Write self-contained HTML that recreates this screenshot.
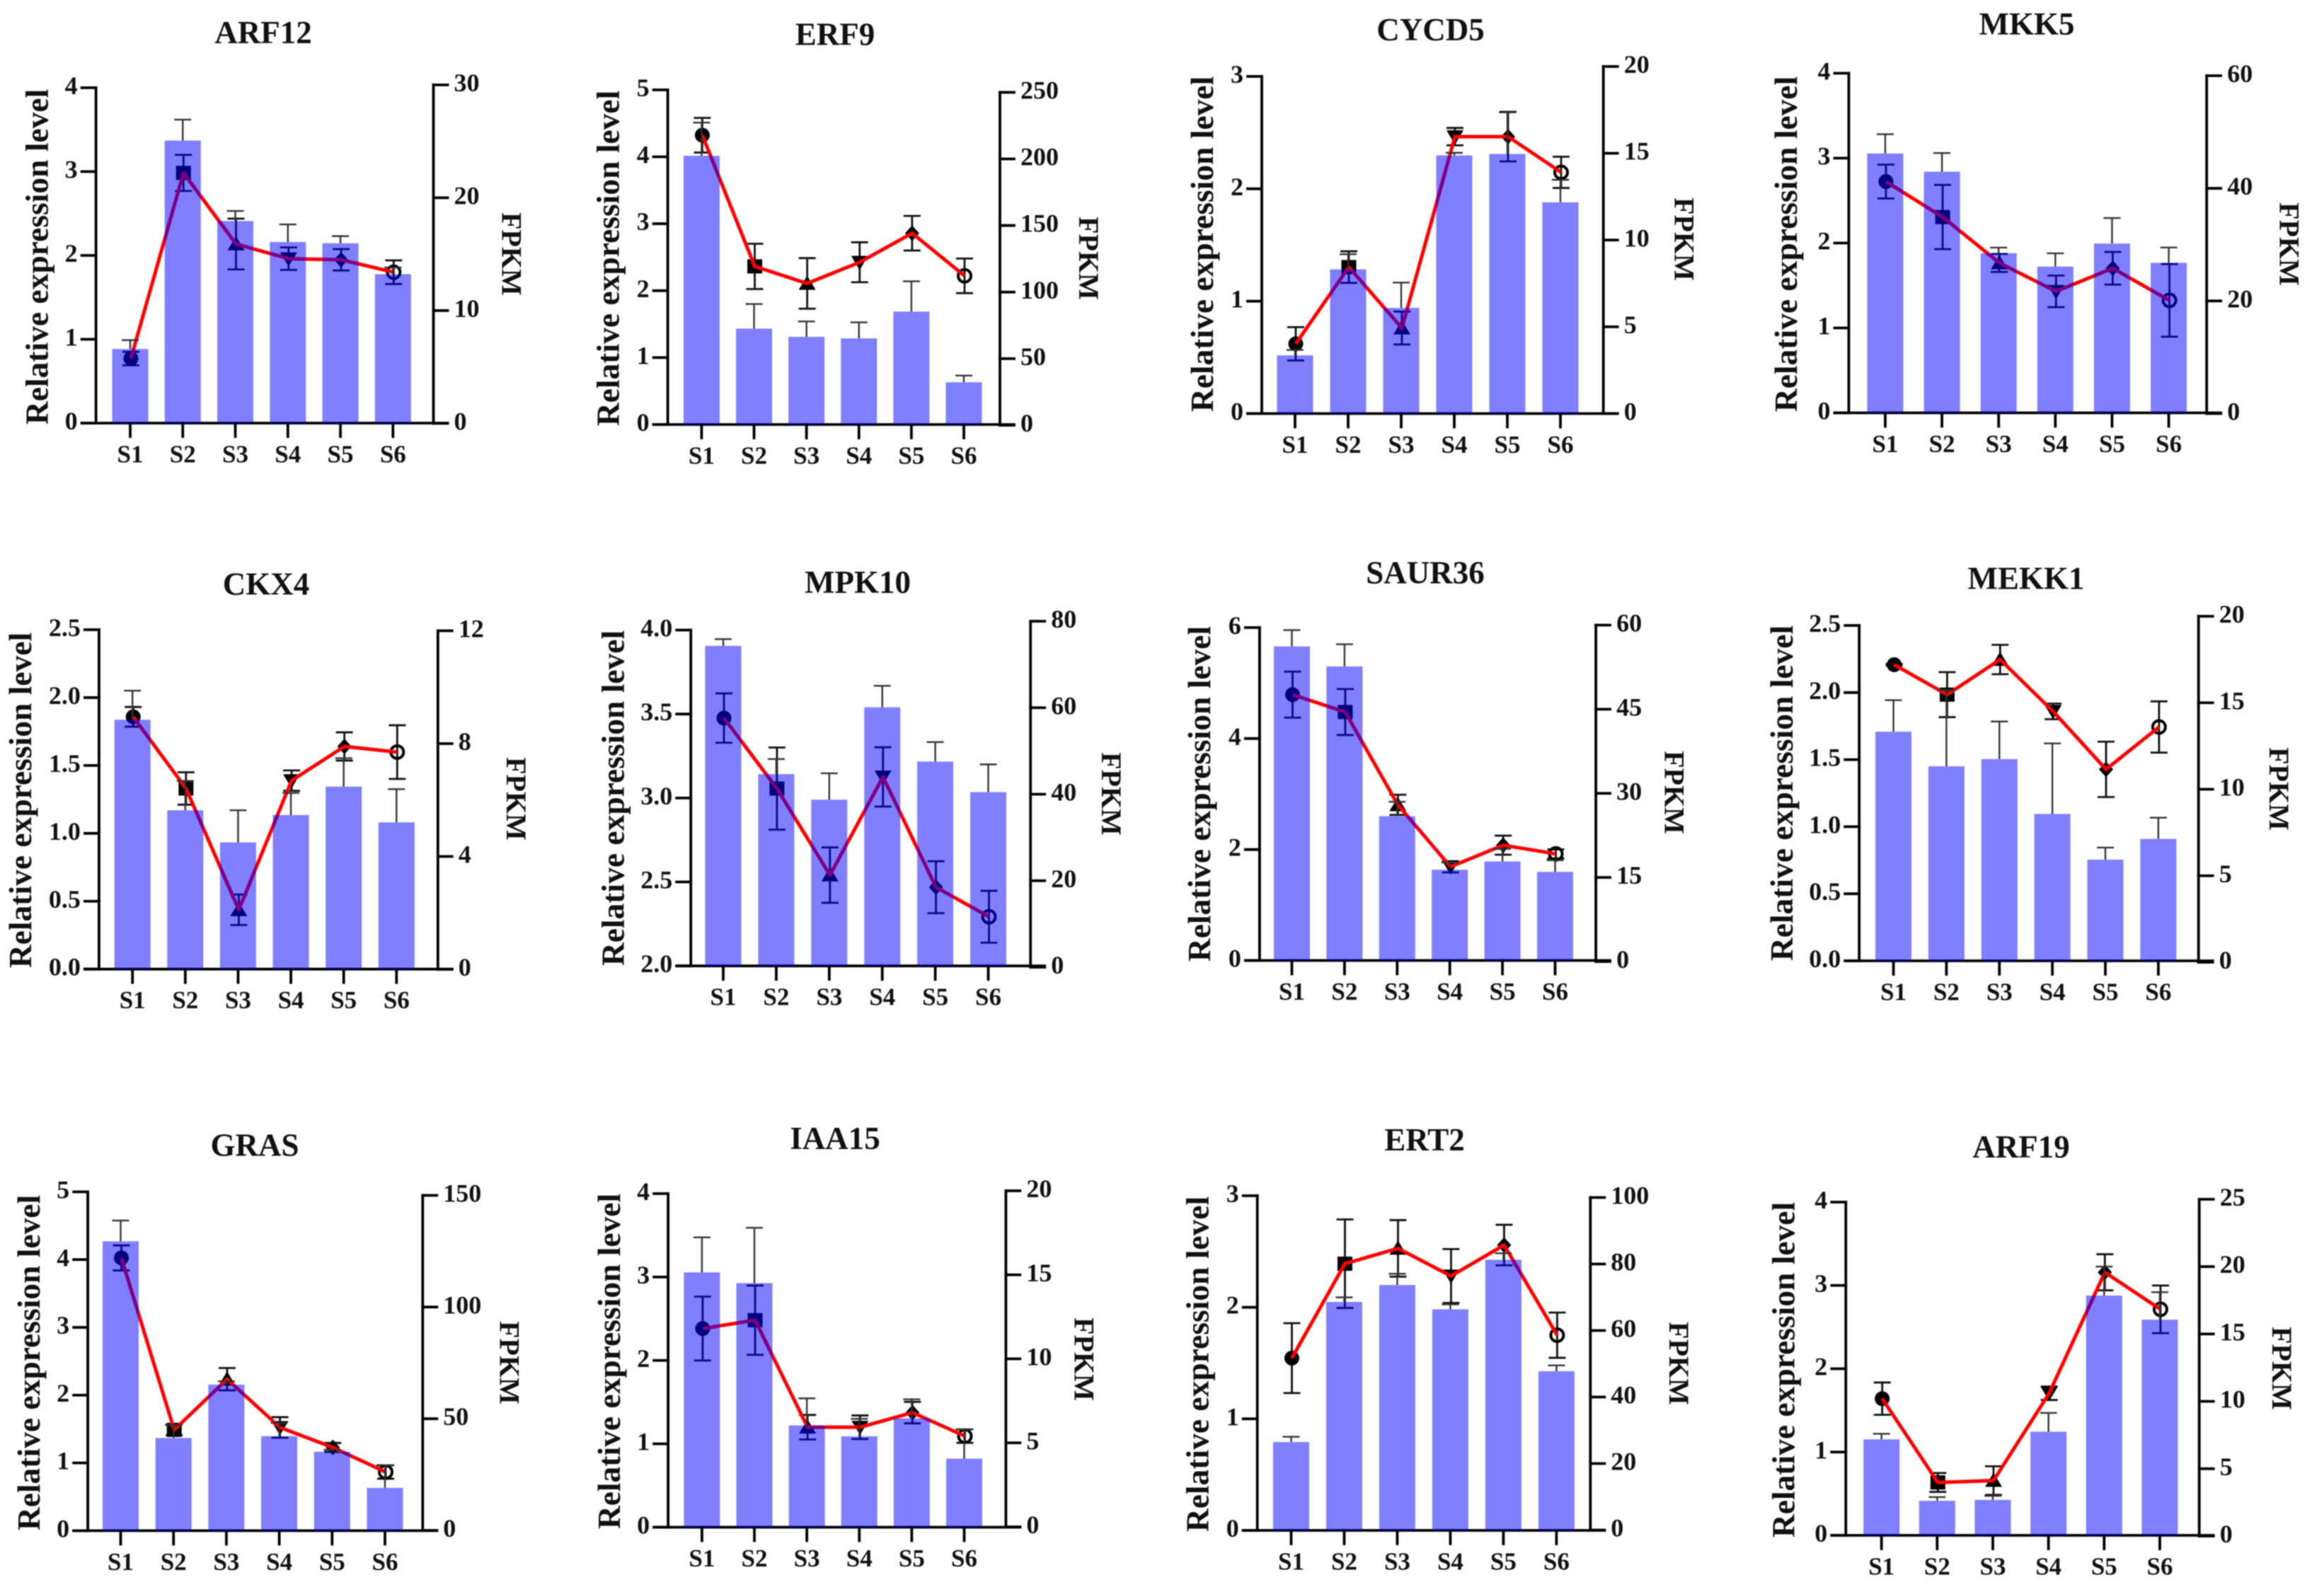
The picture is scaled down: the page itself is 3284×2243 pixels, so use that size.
<!DOCTYPE html>
<html lang="en">
<head>
<meta charset="utf-8">
<title>Relative expression level and FPKM of twelve genes across S1 to S6</title>
<style>
  html, body { margin: 0; padding: 0; background: #fff; }
  #figure { display: block; width: 3284px; height: 2243px; filter: blur(0.9px); }
  text { font-family: "Liberation Serif", "Times New Roman", serif; font-weight: bold; fill: #111; }
</style>
</head>
<body>
<svg id="figure" xmlns="http://www.w3.org/2000/svg" width="3284" height="2243" viewBox="0 0 3284 2243"></svg>
<script>
const categories = ['S1', 'S2', 'S3', 'S4', 'S5', 'S6'];

const arf12LeftTicks = ['0', '1', '2', '3', '4'];
const arf12RightTicks = ['0', '10', '20', '30'];
const arf12Bars = [0.884, 3.37, 2.41, 2.16, 2.145, 1.776];
const arf12BarErr = [0.106, 0.25, 0.12, 0.21, 0.085, 0.08];
const arf12Fpkm = [5.75, 22.2, 15.9, 14.6, 14.5, 13.4];
const arf12FpkmErr = [0.6, 1.6, 2.25, 1.0, 0.95, 1.05];

const erf9LeftTicks = ['0', '1', '2', '3', '4', '5'];
const erf9RightTicks = ['0', '50', '100', '150', '200', '250'];
const erf9Bars = [4.015, 1.433, 1.31, 1.287, 1.687, 0.631];
const erf9BarErr = [0.495, 0.367, 0.23, 0.24, 0.453, 0.1];
const erf9Fpkm = [217.8, 119.3, 106.5, 122.4, 144.2, 112.2];
const erf9FpkmErr = [13, 17, 19, 15, 13, 13];

const cycd5LeftTicks = ['0', '1', '2', '3'];
const cycd5RightTicks = ['0', '5', '10', '15', '20'];
const cycd5Bars = [0.518, 1.283, 0.94, 2.297, 2.31, 1.88];
const cycd5BarErr = [0.048, 0.135, 0.225, 0.023, 0.37, 0.2];
const cycd5Fpkm = [4.02, 8.44, 4.93, 15.96, 15.96, 13.9];
const cycd5FpkmErr = [0.96, 0.91, 0.95, 0.5, 1.43, 0.9];

const mkk5LeftTicks = ['0', '1', '2', '3', '4'];
const mkk5RightTicks = ['0', '20', '40', '60'];
const mkk5Bars = [3.055, 2.84, 1.88, 1.723, 1.994, 1.767];
const mkk5BarErr = [0.227, 0.22, 0.066, 0.156, 0.3, 0.18];
const mkk5Fpkm = [41.2, 34.9, 26.75, 21.7, 25.8, 20.1];
const mkk5FpkmErr = [3.0, 5.7, 1.6, 2.8, 2.9, 6.45];

const ckx4LeftTicks = ['0.0', '0.5', '1.0', '1.5', '2.0', '2.5'];
const ckx4RightTicks = ['0', '4', '8', '12'];
const ckx4Bars = [1.837, 1.17, 0.933, 1.135, 1.344, 1.081];
const ckx4BarErr = [0.214, 0.216, 0.237, 0.163, 0.21, 0.245];
const ckx4Fpkm = [8.95, 6.41, 2.11, 6.69, 7.9, 7.7];
const ckx4FpkmErr = [0.35, 0.575, 0.54, 0.36, 0.5, 0.95];

const mpk10LeftTicks = ['2.0', '2.5', '3.0', '3.5', '4.0'];
const mpk10RightTicks = ['0', '20', '40', '60', '80'];
const mpk10Bars = [3.906, 3.142, 2.99, 3.54, 3.217, 3.035];
const mpk10BarErr = [0.04, 0.09, 0.157, 0.128, 0.116, 0.165];
const mpk10Fpkm = [57.6, 41.3, 21.3, 44, 18.5, 11.66];
const mpk10FpkmErr = [5.7, 9.5, 6.4, 6.85, 6, 6];

const saur36LeftTicks = ['0', '2', '4', '6'];
const saur36RightTicks = ['0', '15', '30', '45', '60'];
const saur36Bars = [5.66, 5.3, 2.6, 1.636, 1.784, 1.597];
const saur36BarErr = [0.295, 0.4, 0.26, 0.13, 0.227, 0.21];
const saur36Fpkm = [47.6, 44.5, 27.95, 16.9, 20.75, 19.2];
const saur36FpkmErr = [4.1, 4.1, 1.8, 1.0, 1.7, 0.8];

const mekk1LeftTicks = ['0.0', '0.5', '1.0', '1.5', '2.0', '2.5'];
const mekk1RightTicks = ['0', '5', '10', '15', '20'];
const mekk1Bars = [1.708, 1.45, 1.504, 1.095, 0.754, 0.909];
const mekk1BarErr = [0.235, 0.568, 0.28, 0.526, 0.09, 0.158];
const mekk1Fpkm = [17.2, 15.47, 17.5, 14.5, 11.15, 13.6];
const mekk1FpkmErr = [0.05, 1.3, 0.85, 0.45, 1.6, 1.48];

const grasLeftTicks = ['0', '1', '2', '3', '4', '5'];
const grasRightTicks = ['0', '50', '100', '150'];
const grasBars = [4.27, 1.368, 2.155, 1.395, 1.164, 0.632];
const grasBarErr = [0.307, 0.19, 0.05, 0.195, 0.03, 0.336];
const grasFpkm = [122, 45, 67.7, 46.1, 37.15, 26.15];
const grasFpkmErr = [5.6, 2.4, 5, 4.6, 2, 3];

const iaa15LeftTicks = ['0', '1', '2', '3', '4'];
const iaa15RightTicks = ['0', '5', '10', '15', '20'];
const iaa15Bars = [3.056, 2.927, 1.22, 1.09, 1.305, 0.822];
const iaa15BarErr = [0.42, 0.663, 0.325, 0.21, 0.229, 0.35];
const iaa15Fpkm = [11.8, 12.3, 5.93, 5.93, 6.8, 5.4];
const iaa15FpkmErr = [1.9, 2.06, 0.73, 0.7, 0.64, 0.4];

const ert2LeftTicks = ['0', '1', '2', '3'];
const ert2RightTicks = ['0', '20', '40', '60', '80', '100'];
const ert2Bars = [0.792, 2.048, 2.2, 1.982, 2.426, 1.427];
const ert2BarErr = [0.047, 0.041, 0.1, 0.044, 0.058, 0.052];
const ert2Fpkm = [51.7, 80.1, 84.7, 76.4, 85.7, 58.6];
const ert2FpkmErr = [10.5, 13.3, 8.5, 8.1, 6.1, 6.8];

const arf19LeftTicks = ['0', '1', '2', '3', '4'];
const arf19RightTicks = ['0', '5', '10', '15', '20', '25'];
const arf19Bars = [1.152, 0.415, 0.426, 1.244, 2.878, 2.589];
const arf19BarErr = [0.067, 0.044, 0.048, 0.226, 0.348, 0.33];
const arf19Fpkm = [10.2, 3.98, 4.12, 10.6, 19.58, 16.83];
const arf19FpkmErr = [1.2, 0.7, 1.06, 0.5, 1.34, 1.77];

const leftAxisTitle = 'Relative expression level';
const rightAxisTitle = 'FPKM';

const panels = [
  { title: 'ARF12', key: 'arf12', left: arf12LeftTicks, right: arf12RightTicks, bars: arf12Bars, barErr: arf12BarErr, fpkm: arf12Fpkm, fpkmErr: arf12FpkmErr,
    frame: { L: 135.6, base: 598, ltop: 124, R: 612.5, rtop: 120, rbase: 598.4, s1: 184, s6: 555.3, tx: 372, ty: 47, yx: 52.6, yy: 363, fx: 723.5, fy: 359 } },
  { title: 'ERF9', key: 'erf9', left: erf9LeftTicks, right: erf9RightTicks, bars: erf9Bars, barErr: erf9BarErr, fpkm: erf9Fpkm, fpkmErr: erf9FpkmErr,
    frame: { L: 943.6, base: 600, ltop: 127, R: 1413, rtop: 130.5, rbase: 601, s1: 991.4, s6: 1362, tx: 1180, ty: 49.5, yx: 859.4, yy: 365, fx: 1539, fy: 365 } },
  { title: 'CYCD5', key: 'cycd5', left: cycd5LeftTicks, right: cycd5RightTicks, bars: cycd5Bars, barErr: cycd5BarErr, fpkm: cycd5Fpkm, fpkmErr: cycd5FpkmErr,
    frame: { L: 1783, base: 584.5, ltop: 108, R: 2265.7, rtop: 94, rbase: 584.5, s1: 1830, s6: 2205, tx: 2021.5, ty: 42.8, yx: 1698.9, yy: 345, fx: 2380.3, fy: 338 } },
  { title: 'MKK5', key: 'mkk5', left: mkk5LeftTicks, right: mkk5RightTicks, bars: mkk5Bars, barErr: mkk5BarErr, fpkm: mkk5Fpkm, fpkmErr: mkk5FpkmErr,
    frame: { L: 2612.5, base: 583.5, ltop: 103.5, R: 3118.2, rtop: 107, rbase: 584.5, s1: 2664, s6: 3064.6, tx: 2864, ty: 35, yx: 2524, yy: 345, fx: 3235.5, fy: 345 } },
  { title: 'CKX4', key: 'ckx4', left: ckx4LeftTicks, right: ckx4RightTicks, bars: ckx4Bars, barErr: ckx4BarErr, fpkm: ckx4Fpkm, fpkmErr: ckx4FpkmErr,
    frame: { L: 139.9, base: 1369.7, ltop: 890, R: 618.8, rtop: 891.5, rbase: 1370, s1: 187.2, s6: 560.3, tx: 376, ty: 826.4, yx: 28.9, yy: 1131, fx: 729.8, fy: 1129 } },
  { title: 'MPK10', key: 'mpk10', left: mpk10LeftTicks, right: mpk10RightTicks, bars: mpk10Bars, barErr: mpk10BarErr, fpkm: mpk10Fpkm, fpkmErr: mpk10FpkmErr,
    frame: { L: 976.2, base: 1365.2, ltop: 890.5, R: 1456.2, rtop: 878, rbase: 1367, s1: 1022, s6: 1396.5, tx: 1212, ty: 824.1, yx: 866.3, yy: 1128, fx: 1570.8, fy: 1122 } },
  { title: 'SAUR36', key: 'saur36', left: saur36LeftTicks, right: saur36RightTicks, bars: saur36Bars, barErr: saur36BarErr, fpkm: saur36Fpkm, fpkmErr: saur36FpkmErr,
    frame: { L: 1779.9, base: 1357.5, ltop: 887, R: 2255.1, rtop: 883.5, rbase: 1359, s1: 1825.5, s6: 2197.5, tx: 2014, ty: 810.6, yx: 1695.2, yy: 1122, fx: 2366.6, fy: 1120 } },
  { title: 'MEKK1', key: 'mekk1', left: mekk1LeftTicks, right: mekk1RightTicks, bars: mekk1Bars, barErr: mekk1BarErr, fpkm: mekk1Fpkm, fpkmErr: mekk1FpkmErr,
    frame: { L: 2627.2, base: 1358, ltop: 884, R: 3106.7, rtop: 871, rbase: 1360, s1: 2675.6, s6: 3049.9, tx: 2863, ty: 818.3, yx: 2517.8, yy: 1121, fx: 3220.8, fy: 1115 } },
  { title: 'GRAS', key: 'gras', left: grasLeftTicks, right: grasRightTicks, bars: grasBars, barErr: grasBarErr, fpkm: grasFpkm, fpkmErr: grasFpkmErr,
    frame: { L: 124.1, base: 2163.4, ltop: 1684.5, R: 597.3, rtop: 1689.5, rbase: 2163, s1: 170.5, s6: 544, tx: 360, ty: 1619.3, yx: 41, yy: 1926, fx: 720.3, fy: 1926 } },
  { title: 'IAA15', key: 'iaa15', left: iaa15LeftTicks, right: iaa15RightTicks, bars: iaa15Bars, barErr: iaa15BarErr, fpkm: iaa15Fpkm, fpkmErr: iaa15FpkmErr,
    frame: { L: 944.1, base: 2158.5, ltop: 1687, R: 1421.4, rtop: 1683, rbase: 2158, s1: 991.9, s6: 1362.5, tx: 1180, ty: 1610, yx: 861, yy: 1924, fx: 1532.4, fy: 1921 } },
  { title: 'ERT2', key: 'ert2', left: ert2LeftTicks, right: ert2RightTicks, bars: ert2Bars, barErr: ert2BarErr, fpkm: ert2Fpkm, fpkmErr: ert2FpkmErr,
    frame: { L: 1776.7, base: 2163, ltop: 1690, R: 2247.3, rtop: 1692.5, rbase: 2162.5, s1: 1824.5, s6: 2199.4, tx: 2013, ty: 1612, yx: 1692.6, yy: 1928, fx: 2372.9, fy: 1927 } },
  { title: 'ARF19', key: 'arf19', left: arf19LeftTicks, right: arf19RightTicks, bars: arf19Bars, barErr: arf19BarErr, fpkm: arf19Fpkm, fpkmErr: arf19FpkmErr,
    frame: { L: 2608.3, base: 2170, ltop: 1699, R: 3107.7, rtop: 1695, rbase: 2171, s1: 2658.7, s6: 3052, tx: 2856, ty: 1622, yx: 2520.5, yy: 1936, fx: 3225, fy: 1934 } }
];

const SVG_NS = 'http://www.w3.org/2000/svg';
const figure = document.getElementById('figure');
const BAR_WIDTH = 51;
const CAP_WIDTH = 24;
const TICK_LEN = 20;

function make(tag, attrs, parent) {
  const node = document.createElementNS(SVG_NS, tag);
  for (const k in attrs) node.setAttribute(k, attrs[k]);
  parent.appendChild(node);
  return node;
}
function seg(parent, x1, y1, x2, y2, stroke, width) {
  return make('line', { x1: x1, y1: y1, x2: x2, y2: y2, stroke: stroke, 'stroke-width': width }, parent);
}
function label(parent, x, y, str, size, anchor, rotate) {
  const attrs = { x: x, y: y, 'font-size': size, 'text-anchor': anchor };
  if (rotate) attrs.transform = 'rotate(' + rotate + ' ' + x + ' ' + y + ')';
  const node = make('text', attrs, parent);
  node.textContent = str;
  return node;
}
function linearScale(d0, d1, r0, r1) {
  return function (v) { return r0 + (v - d0) * (r1 - r0) / (d1 - d0); };
}
function drawMarker(parent, index, cx, cy) {
  const s = 11;
  if (index === 0) return make('circle', { cx: cx, cy: cy, r: 10.5, fill: '#000' }, parent);
  if (index === 1) return make('rect', { x: cx - 10.5, y: cy - 10, width: 21, height: 20, fill: '#000' }, parent);
  if (index === 2) return make('polygon', { points: [cx, cy - s, cx + s + 1, cy + s - 2, cx - s - 1, cy + s - 2].join(' '), fill: '#000' }, parent);
  if (index === 3) return make('polygon', { points: [cx, cy + s, cx + s + 1, cy - s + 2, cx - s - 1, cy - s + 2].join(' '), fill: '#000' }, parent);
  if (index === 4) return make('polygon', { points: [cx, cy - s, cx + s - 1, cy, cx, cy + s, cx - s + 1, cy].join(' '), fill: '#000' }, parent);
  return make('circle', { cx: cx, cy: cy, r: 9, fill: 'none', stroke: '#000', 'stroke-width': 4 }, parent);
}

panels.forEach(function (p) {
  const f = p.frame;
  const leftValues = p.left.map(Number);
  const rightValues = p.right.map(Number);
  const leftY = linearScale(leftValues[0], leftValues[leftValues.length - 1], f.base, f.ltop);
  const rightY = linearScale(rightValues[0], rightValues[rightValues.length - 1], f.rbase, f.rtop);
  const catX = linearScale(0, categories.length - 1, f.s1, f.s6);

  const panel = make('g', {}, figure);
  
  

  const title = label(panel, f.tx, f.ty + 14, p.title, 45, 'middle');
  
  

  const yTitle = label(panel, f.yx + 15, f.yy, leftAxisTitle, 45.5, 'middle', -90);
  
  

  const fpkmTitle = label(panel, f.fx - 14, f.fy, rightAxisTitle, 40, 'middle', 90);
  
  

  const axes = make('g', { 'stroke-linecap': 'square' }, panel);
  
  

  const leftAxis = seg(axes, f.L, f.ltop, f.L, f.base, '#000', 3.8);
  
  

  const rightAxis = seg(axes, f.R, f.rtop, f.R, f.rbase, '#000', 3.8);
  
  

  const xAxis = seg(axes, f.L - TICK_LEN, f.base, f.R + TICK_LEN, f.base, '#000', 3.8);
  
  

  p.left.forEach(function (t) {
    const y = leftY(Number(t));
    const tick = seg(axes, f.L - TICK_LEN, y, f.L, y, '#000', 3.8);
    
    
    const txt = label(panel, f.L - TICK_LEN - 6, y + 9, t, 36, 'end');
    
    
  });

  p.right.forEach(function (t) {
    const y = rightY(Number(t));
    const tick = seg(axes, f.R, y, f.R + TICK_LEN, y, '#000', 3.8);
    
    
    const txt = label(panel, f.R + TICK_LEN + 9, y + 9, t, 36, 'start');
    
    
  });

  categories.forEach(function (c, i) {
    const x = catX(i);
    const tick = seg(axes, x, f.base, x, f.base + 19, '#000', 3.8);
    
    
    const txt = label(panel, x, f.base + 55.5, c, 35, 'middle');
    
    
  });

  const fpkmLayer = make('g', {}, panel);
  
  

  p.fpkm.forEach(function (v, i) {
    const x = catX(i) + 1;
    const hi = rightY(v + p.fpkmErr[i]);
    const lo = rightY(v - p.fpkmErr[i]);
    const stem = seg(fpkmLayer, x, hi, x, lo, '#111', 2.8);
    
    
    const capTop = seg(fpkmLayer, x - CAP_WIDTH / 2, hi, x + CAP_WIDTH / 2, hi, '#111', 2.8);
    
    
    const capBottom = seg(fpkmLayer, x - CAP_WIDTH / 2, lo, x + CAP_WIDTH / 2, lo, '#111', 2.8);
    
    
  });

  p.fpkm.forEach(function (v, i) {
    const marker = drawMarker(fpkmLayer, i, catX(i) + 1, rightY(v));
    
    
  });

  const linePoints = p.fpkm.map(function (v, i) { return (catX(i) + 1) + ',' + rightY(v); }).join(' ');
  const trend = make('polyline', { points: linePoints, fill: 'none', stroke: '#ff0000', 'stroke-width': 5, 'stroke-linejoin': 'round' }, fpkmLayer);
  
  

  const barLayer = make('g', {}, panel);
  
  

  p.bars.forEach(function (v, i) {
    const x = catX(i);
    const top = leftY(v);
    const errTop = leftY(v + p.barErr[i]);
    const stem = seg(barLayer, x, top, x, errTop, '#333', 2.4);
    
    
    const cap = seg(barLayer, x - CAP_WIDTH / 2, errTop, x + CAP_WIDTH / 2, errTop, '#333', 2.4);
    
    
    const bar = make('rect', { x: x - BAR_WIDTH / 2, y: top, width: BAR_WIDTH, height: f.base - top, fill: 'rgba(0,0,255,0.5)' }, barLayer);
    
    
  });
});
</script>
</body>
</html>
